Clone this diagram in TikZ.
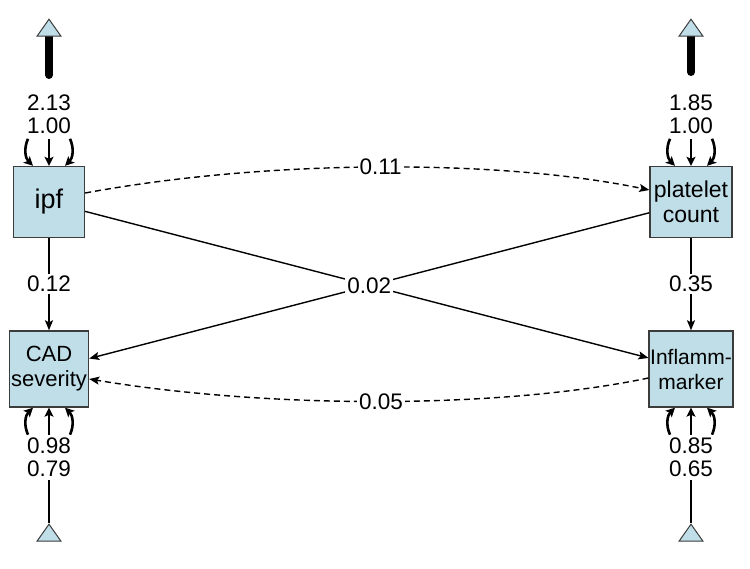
\documentclass[tikz,border=0pt]{standalone}
\usepackage{fontspec}
\setmainfont{Liberation Sans}
\usepackage{xcolor}
\usepackage{tikz}
\usetikzlibrary{arrows.meta,positioning,shapes.geometric,calc}
\definecolor{boxblue}{RGB}{192,222,232}
\definecolor{boxline}{RGB}{60,60,60}
\tikzset {
    varbox/.style={draw=boxline, fill=boxblue, line width=1.4pt, align=center,
        inner sep=1pt, font=\fontsize{22}{25}\selectfont},
    varlab/.style={align=center, inner sep=0pt, font=\fontsize{22.5}{23}\selectfont},
    pathlab/.style={fill=white, inner sep=2pt, font=\fontsize{22.5}{24}\selectfont},
    sinktri/.style={draw=boxline, fill=boxblue, line width=1pt, isosceles triangle,
        shape border rotate=90, isosceles triangle stretches, minimum width=24pt,
        minimum height=17pt, inner sep=0pt},
    thickbar/.style={line width=8pt, line cap=round},
    errarrow/.style={line width=2.6pt, -{Stealth[length=9pt,width=9pt,inset=2pt]}},
    errline/.style={line width=1.4pt},
    path/.style={line width=1.4pt, -{Stealth[length=10pt,width=8pt,inset=2pt]}},
    covpath/.style={path, dashed, dash pattern=on 6pt off 4pt},
    node distance=30pt
}

\begin{document}
\begin{tikzpicture}[x=1pt, y=-1pt]
    \useasboundingbox (0,0) rectangle (750,569);

    \node[varbox, minimum width=71pt, minimum height=71pt,
        font=\fontsize{27}{30}\selectfont] (ipf) at (49,202) {ipf};
    \node[varbox, minimum width=79pt, minimum height=76pt] (cad) at (49,369) {CAD\\severity};
    \node[varbox, minimum width=82pt, minimum height=71pt,
        font=\fontsize{23}{25}\selectfont] (plt) at (691,202) {platelet\\count};
    \node[varbox, minimum width=82pt, minimum height=76pt,
        font=\fontsize{21}{25}\selectfont] (inf) at (691,369) {Inflamm-\\marker};

    \node[varlab, above=32pt of ipf] (ipfvar) {2.13\\1.00};
    \node[varlab, above=32pt of plt] (pltvar) {1.85\\1.00};
    \node[varlab, below=30pt of cad] (cadvar) {0.98\\0.79};
    \node[varlab, below=30pt of inf] (infvar) {0.85\\0.65};

    \coordinate (ipfbar) at (49,75);
    \coordinate (ipfsink) at (49,30);
    \coordinate (pltbar) at (691,72);
    \coordinate (pltsink) at (691,30);
    \draw[thickbar] (ipfbar) -- (ipfsink);
    \draw[thickbar] (pltbar) -- (pltsink);
    \node[sinktri] (ipftri) at (ipfsink) {};
    \node[sinktri] (plttri) at (pltsink) {};
    \node[sinktri] (cadtri) at (49,535) {};
    \node[sinktri] (inftri) at (691,535) {};
    \draw[errline, shorten <=3pt] (cadvar) -- (cadtri.apex);
    \draw[errline, shorten <=3pt] (infvar) -- (inftri.apex);

    \foreach \v in {ipf, plt} {
        \draw[errarrow] ($(\v.north)+(-21,-27)$) to[bend right=35] ($(\v.north)+(-16,0)$);
        \draw[errarrow] ($(\v.north)+(0,-27)$) -- (\v.north);
        \draw[errarrow] ($(\v.north)+(21,-27)$) to[bend left=35] ($(\v.north)+(16,0)$);
    }
    \foreach \v in {cad, inf} {
        \draw[errarrow] ($(\v.south)+(-21,27)$) to[bend left=35] ($(\v.south)+(-16,0)$);
        \draw[errarrow] ($(\v.south)+(0,27)$) -- (\v.south);
        \draw[errarrow] ($(\v.south)+(21,27)$) to[bend right=35] ($(\v.south)+(16,0)$);
    }

    \draw[path] (ipf) -- node[pathlab] {0.12} (cad);
    \draw[path] (plt) -- node[pathlab] {0.35} (inf);
    \draw[path] (ipf) -- (inf);
    \draw[path] (plt) -- node[pathlab] {0.02} (cad);
    \draw[covpath] (ipf.east |- 0,193) .. controls (270,159) and (500,159)
        .. node[pathlab] {0.11} (plt.west |- 0,190);
    \draw[covpath] (inf.west |- 0,378) .. controls (500,409) and (270,409)
        .. node[pathlab] {0.05} (cad.east |- 0,379);

\end{tikzpicture}
\end{document}
